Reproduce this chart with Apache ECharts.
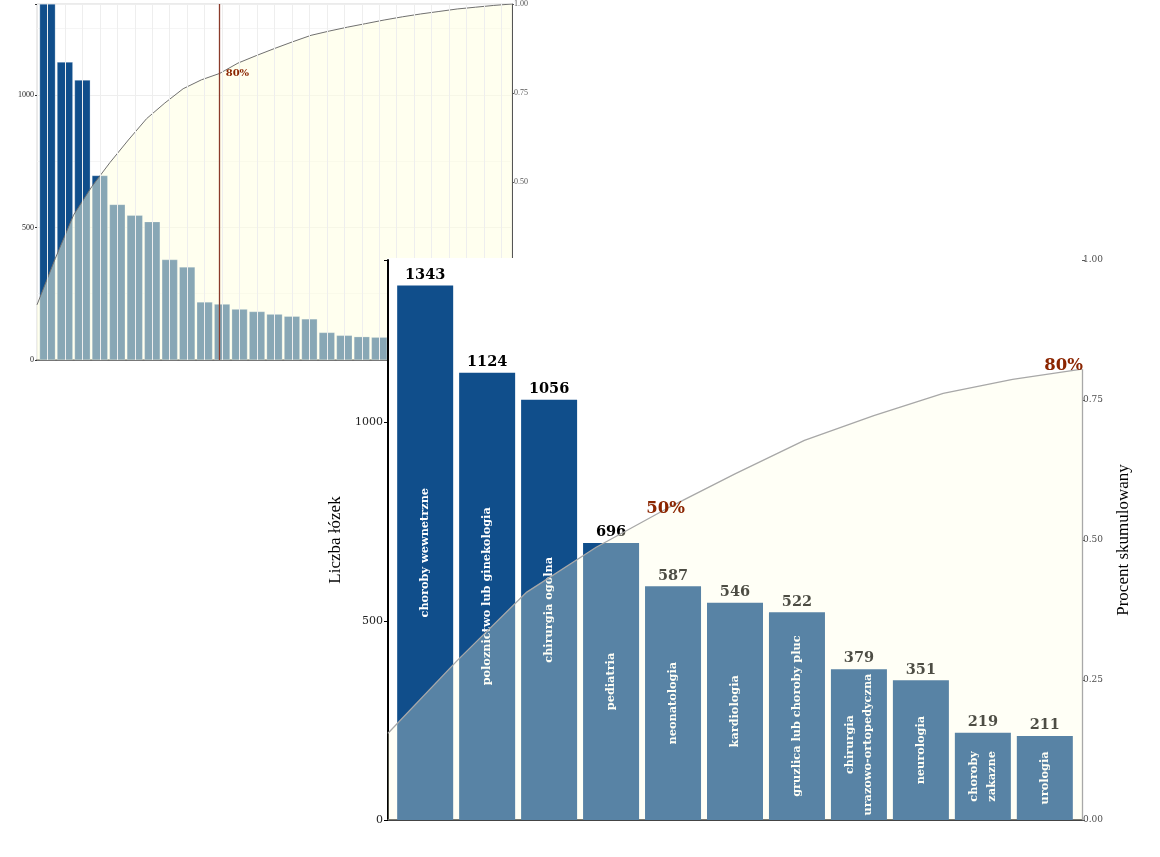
<!DOCTYPE html>
<html>
<head>
<meta charset="utf-8">
<script src="https://cdn.jsdelivr.net/npm/echarts@6/dist/echarts.min.js"></script>
<style>
html,body{margin:0;padding:0;background:#fff;}
#bg,#main{position:absolute;left:0;top:0;width:1160px;height:857px;}
</style>
</head>
<body>
<div id="bg"></div>
<div id="main"></div>
<script>
// ---- data ----
const categories = [
  'choroby wewnetrzne',
  'poloznictwo lub ginekologia',
  'chirurgia ogolna',
  'pediatria',
  'neonatologia',
  'kardiologia',
  'gruzlica lub choroby pluc',
  'chirurgia\nurazowo-ortopedyczna',
  'neurologia',
  'choroby\nzakazne',
  'urologia'
];
const beds = [1343, 1124, 1056, 696, 587, 546, 522, 379, 351, 219, 211];
// smaller wards, only visible in the full chart behind
const otherBeds = [192, 183, 173, 165, 155, 104, 93, 88, 86, 80, 70, 62, 55, 48, 42, 35];
// cumulative share (all 27 wards)
const cumShare = [0.155, 0.285, 0.407, 0.487, 0.555, 0.618, 0.678, 0.722, 0.762, 0.787, 0.805,
                  0.834, 0.855, 0.875, 0.894, 0.912, 0.924, 0.935, 0.945, 0.955,
                  0.964, 0.972, 0.979, 0.986, 0.991, 0.996, 1.000];
const annotIndex = [5, 11];
const annotText = ['50%', '80%'];
const bgAnnotIndex = 11;
const bgAnnotText = '80%';
const yTitle = 'Liczba łózek';
const y2Title = 'Procent skumulowany';

// ---- styles ----
const BAR = '#104E8B';
const CREAM = '#FFFFE0';
const DARKRED = '#8B2500';
const SERIF = '"DejaVu Serif", serif';
const TIMES = '"Liberation Serif", serif';

const allBeds = beds.concat(otherBeds);
const nAll = allBeds.length;
const nMain = beds.length;

// ---------- background (full) chart ----------
const bg = echarts.init(document.getElementById('bg'), null, {renderer: 'canvas'});
bg.setOption({
  animation: false,
  grid: {left: 37, top: 3, width: 475, height: 357, show: true, borderColor: '#d6d6d6', borderWidth: 1},
  xAxis: [
    {type: 'value', min: 0.4, max: nAll + 0.6, position: 'bottom',
     axisLine: {show: true, onZero: false, lineStyle: {color: '#444', width: 1.5}},
     axisTick: {show: false}, axisLabel: {show: false}, splitLine: {show: false}},
    {type: 'value', min: 1, max: nAll, show: false}
  ],
  yAxis: [
    {type: 'value', min: 0, max: beds[0], interval: 500,
     axisLine: {show: false},
     axisTick: {show: true, length: 2, lineStyle: {color: '#333'}},
     axisLabel: {fontFamily: TIMES, fontSize: 8, color: '#222', margin: 3,
                 formatter: v => (v % 500 === 0 ? String(v) : '')},
     splitLine: {show: true, lineStyle: {color: '#eeeeee', width: 1}},
     minorTick: {show: false, splitNumber: 2},
     minorSplitLine: {show: true, lineStyle: {color: '#f5f5f5', width: 1}}},
    {type: 'value', position: 'right', min: 0, max: 1, interval: 0.25,
     axisLine: {show: true, lineStyle: {color: '#555', width: 1}},
     axisTick: {show: true, length: 2, lineStyle: {color: '#555'}},
     axisLabel: {fontFamily: TIMES, fontSize: 8, color: '#555', margin: 2,
                 formatter: v => v.toFixed(2)},
     splitLine: {show: false}}
  ],
  series: [
    {type: 'line', xAxisIndex: 0, yAxisIndex: 0, z: 1, silent: true,
     data: allBeds.map((v, i) => [i + 1, 0]), symbol: 'none', lineStyle: {opacity: 0},
     markLine: {silent: true, symbol: 'none', label: {show: false},
                lineStyle: {color: '#eeeeee', width: 1, type: 'solid'},
                data: allBeds.map((v, i) => ({xAxis: i + 1}))}},
    {type: 'bar', xAxisIndex: 0, yAxisIndex: 0, z: 2, barWidth: 15.8,
     data: allBeds.map((v, i) => [i + 1, v]),
     itemStyle: {color: BAR, borderColor: 'rgba(255,255,255,0.5)', borderWidth: 0.5}},
    {type: 'line', xAxisIndex: 1, yAxisIndex: 1, z: 3,
     data: cumShare.map((v, i) => [i + 1, v]), symbol: 'none',
     lineStyle: {color: '#707070', width: 1},
     areaStyle: {color: CREAM, opacity: 0.5},
     markLine: {silent: true, symbol: 'none', label: {show: false},
                lineStyle: {color: '#8a3a2a', width: 1.3, type: 'solid'},
                data: [{xAxis: bgAnnotIndex}]}}
  ],
  graphic: []
});
// annotation text for the background chart (positioned through the chart's own scale)
(function () {
  const pt = bg.convertToPixel({xAxisIndex: 1, yAxisIndex: 1}, [bgAnnotIndex, cumShare[bgAnnotIndex - 1]]);
  bg.setOption({graphic: [{type: 'text', z: 100, silent: true, x: pt[0] + 6, y: pt[1],
    style: {text: bgAnnotText, fill: DARKRED, font: 'bold 10px "DejaVu Serif", serif',
            align: 'left', verticalAlign: 'middle'}}]});
})();

// ---------- main (zoomed) chart ----------
const main = echarts.init(document.getElementById('main'), null, {renderer: 'canvas'});
main.setOption({
  animation: false,
  graphic: [{id: 'panel', type: 'rect', z: -10, silent: true,
             shape: {x: 387, y: 258, width: 773, height: 599}, style: {fill: '#ffffff'}}],
  grid: {left: 388, top: 260, width: 694, height: 560},
  xAxis: [
    {type: 'value', min: 0.4, max: nMain + 0.6, position: 'bottom',
     axisLine: {show: true, onZero: false, lineStyle: {color: '#444', width: 2}},
     axisTick: {show: false}, axisLabel: {show: false}, splitLine: {show: false}},
    {type: 'value', min: 1, max: nMain, show: false}
  ],
  yAxis: [
    {type: 'value', min: 0, max: 1407, interval: 500,
     name: yTitle, nameLocation: 'middle', nameGap: 31, nameRotate: 90,
     nameTextStyle: {fontFamily: TIMES, fontSize: 17, color: '#000'},
     axisLine: {show: true, lineStyle: {color: '#000', width: 2}},
     axisTick: {show: true, length: 4, lineStyle: {color: '#000', width: 1}},
     axisLabel: {fontFamily: SERIF, fontSize: 11, color: '#222', margin: 5,
                 formatter: v => (v % 500 === 0 ? String(v) : '')},
     splitLine: {show: false}},
    {type: 'value', position: 'right', min: 0, max: 1, interval: 0.25,
     name: y2Title, nameLocation: 'middle', nameGap: 33, nameRotate: 90,
     nameTextStyle: {fontFamily: TIMES, fontSize: 17, color: '#000'},
     axisLine: {show: false},
     axisTick: {show: true, length: 3, lineStyle: {color: '#555'}},
     axisLabel: {fontFamily: SERIF, fontSize: 9, color: '#4d4d4d', margin: 1,
                 formatter: v => v.toFixed(2)},
     splitLine: {show: false}}
  ],
  series: [
    {type: 'bar', xAxisIndex: 0, yAxisIndex: 0, z: 2, barWidth: 56,
     data: beds.map((v, i) => [i + 1, v]),
     itemStyle: {color: BAR},
     label: {show: true, position: 'top', distance: 3,
             formatter: p => String(p.value[1]),
             fontFamily: SERIF, fontWeight: 'bold', fontSize: 14.5, color: '#000'}},
    {type: 'bar', xAxisIndex: 0, yAxisIndex: 0, z: 2, barWidth: 56, barGap: '-100%',
     data: beds.map((v, i) => [i + 1, v]),
     itemStyle: {color: 'rgba(0,0,0,0)'},
     label: {show: true, position: 'inside', rotate: 90,
             formatter: p => categories[p.dataIndex],
             fontFamily: SERIF, fontWeight: 'bold', fontSize: 11.3, lineHeight: 18, color: '#fff'}},
    {type: 'line', xAxisIndex: 1, yAxisIndex: 1, z: 3,
     data: cumShare.slice(0, nMain).map((v, i) => [i + 1, v]), symbol: 'none',
     lineStyle: {color: '#a8a8a8', width: 1.3},
     areaStyle: {color: CREAM, opacity: 0.3},
     markLine: {silent: true, symbol: 'none', label: {show: false},
                lineStyle: {color: '#a8a8a8', width: 1.3, type: 'solid'},
                data: [[{coord: [nMain, 0]}, {coord: [nMain, cumShare[nMain - 1]]}]]}}
  ]
});
// percentage annotations placed through the chart's own scale
(function () {
  const items = annotIndex.map((k, j) => {
    const pt = main.convertToPixel({xAxisIndex: 1, yAxisIndex: 1}, [k, cumShare[k - 1]]);
    const last = (k === nMain);
    return {type: 'text', z: 100, silent: true,
            x: pt[0] + (last ? 1 : 0), y: pt[1] + (last ? -3 : 0),
            style: {text: annotText[j], fill: DARKRED, font: 'bold 16.5px "DejaVu Serif", serif',
                    align: last ? 'right' : 'center', verticalAlign: 'middle'}};
  });
  main.setOption({graphic: [{id: 'panel', type: 'rect', z: -10, silent: true,
             shape: {x: 387, y: 258, width: 773, height: 599}, style: {fill: '#ffffff'}}].concat(items)});
})();
</script>
</body>
</html>
